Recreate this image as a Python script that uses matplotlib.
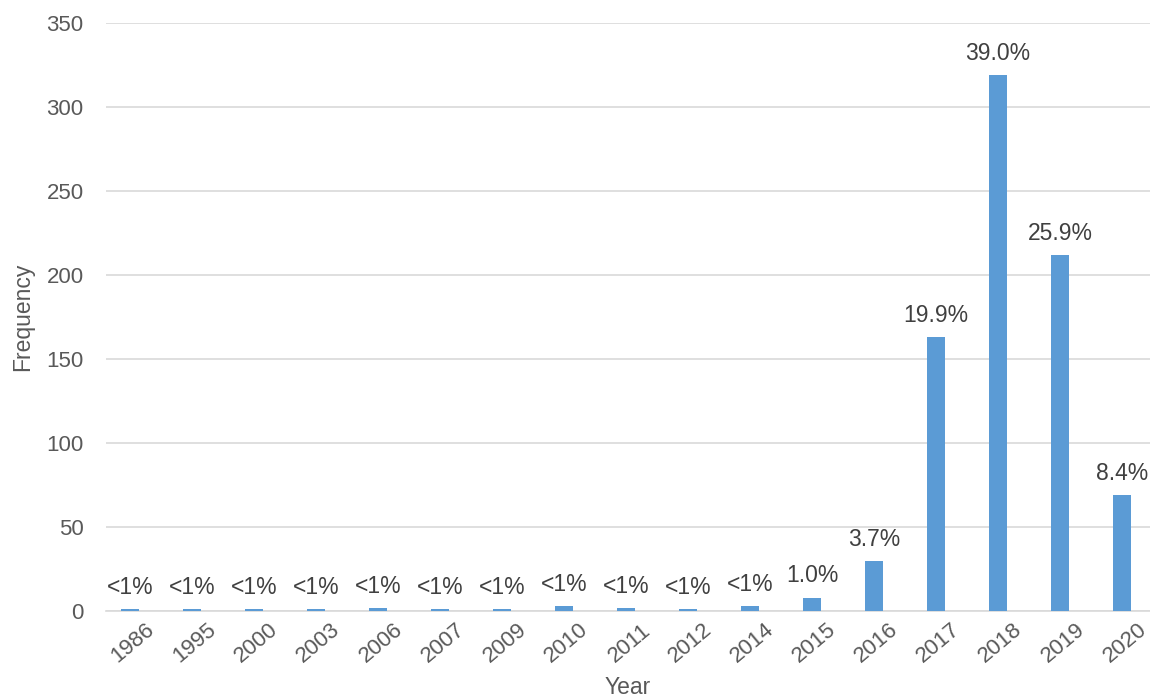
import matplotlib
matplotlib.use("Agg")
import matplotlib.pyplot as plt
import matplotlib.transforms as mtransforms

years = ["1986", "1995", "2000", "2003", "2006", "2007", "2009", "2010", "2011",
         "2012", "2014", "2015", "2016", "2017", "2018", "2019", "2020"]
freq = [1, 1, 1, 1, 2, 1, 1, 3, 2, 1, 3, 8, 30, 163, 319, 212, 69]
labels = ["<1%"] * 11 + ["1.0%", "3.7%", "19.9%", "39.0%", "25.9%", "8.4%"]

plt.rcParams['font.family'] = ['Liberation Sans', 'DejaVu Sans']
fig = plt.figure(figsize=(11.5, 6.97), dpi=100)
ax = fig.add_axes([0.092, 0.1234, 0.908, 0.8436])

x = list(range(len(years)))
bars = ax.bar(x, freq, width=0.3, color="#5B9BD5", zorder=3)
for xi, v, lab in zip(x, freq, labels):
    ax.text(xi, v + 6, lab, ha="center", va="bottom", fontsize=16.5, color="#404040")

ax.set_xlim(-0.39, len(years) - 0.55)
ax.set_ylim(0, 350)
ax.set_yticks(range(0, 351, 50))
ax.yaxis.grid(True, color="#D9D9D9", linewidth=1.2, zorder=0)
ax.set_xticks(x)
ax.set_xticklabels(years, rotation=40, ha="right", rotation_mode="anchor")
ax.tick_params(axis="both", length=0, labelsize=16, labelcolor="#595959")
ax.tick_params(axis="x", pad=6)
ax.tick_params(axis="y", pad=16)
offset = mtransforms.ScaledTranslation(0.15, 0, fig.dpi_scale_trans)
for lbl in ax.get_xticklabels():
    lbl.set_transform(lbl.get_transform() + offset)
for s in ["top", "right", "left"]:
    ax.spines[s].set_visible(False)
ax.spines["bottom"].set_color("#D9D9D9")
ax.spines["bottom"].set_linewidth(1.2)
ax.set_ylabel("Frequency", fontsize=16.5, color="#595959", labelpad=9)
ax.set_xlabel("Year", fontsize=16.5, color="#595959", labelpad=6)

fig.savefig("out.png", dpi=100)
